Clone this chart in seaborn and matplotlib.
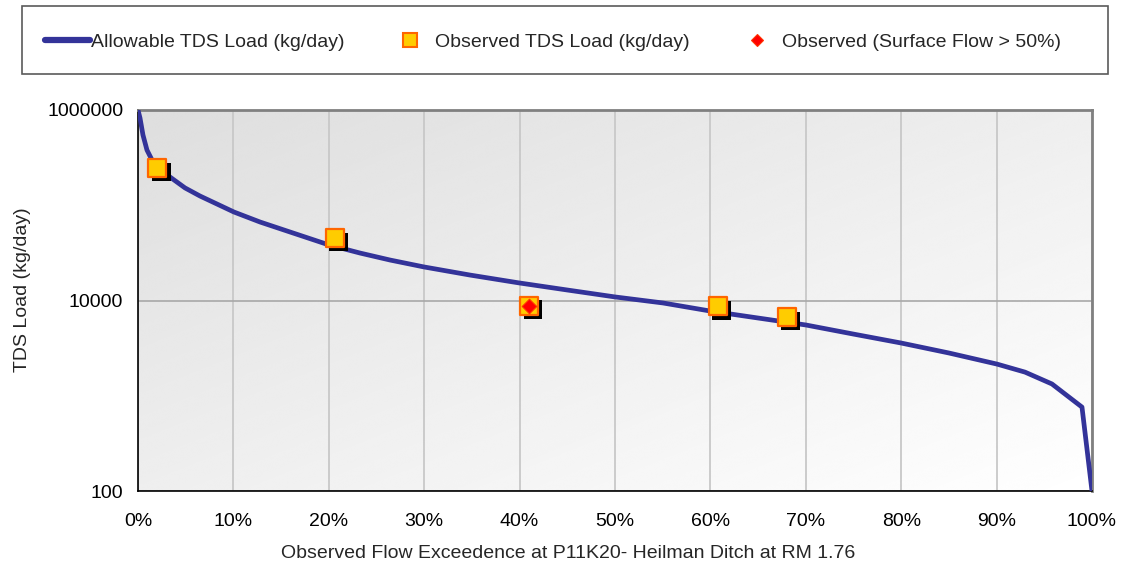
import numpy as np
import matplotlib
matplotlib.use("Agg")
import matplotlib.pyplot as plt
import seaborn as sns
from matplotlib.lines import Line2D
from matplotlib.patches import Rectangle
from matplotlib.ticker import FixedLocator, FuncFormatter, PercentFormatter, NullLocator
from matplotlib.transforms import offset_copy

# ---------------- data ----------------
curve_exceedance = [0.0, 0.0021, 0.0052, 0.0094, 0.0147, 0.0231, 0.0335, 0.0493, 0.065,
                    0.1006, 0.1279, 0.1593, 0.2002, 0.2327, 0.2642, 0.2998, 0.348, 0.3994,
                    0.4497, 0.50, 0.5503, 0.5996, 0.6499, 0.7002, 0.7495, 0.7998, 0.8501,
                    0.9004, 0.9298, 0.958, 0.9895, 1.0]
curve_load = [1000000, 824000, 547000, 380000, 298000, 234000, 198000, 152000, 125000,
              84900, 66700, 52400, 38300, 31500, 26600, 22500, 18500, 15300,
              12900, 10900, 9420, 7760, 6550, 5530, 4450, 3580, 2810,
              2150, 1770, 1330, 760, 100]

obs_exceedance = [0.0204, 0.206, 0.410, 0.6075, 0.680]
obs_load = [246000, 45300, 8850, 8700, 6700]

surface_exceedance = [0.410]
surface_load = [8850]

legend_labels = ["Allowable TDS Load (kg/day)",
                 "Observed TDS Load (kg/day)",
                 "Observed (Surface Flow > 50%)"]
x_ticks = [0.0, 0.1, 0.2, 0.3, 0.4, 0.5, 0.6, 0.7, 0.8, 0.9, 1.0]
y_ticks = [100, 10000, 1000000]
x_label = "Observed Flow Exceedence at P11K20- Heilman Ditch at RM 1.76"
y_label = "TDS Load (kg/day)"

# ---------------- style ----------------
sns.set_style("white")
plt.rcParams['font.family'] = ['Liberation Sans', 'DejaVu Sans']
plt.rcParams['font.size'] = 14

W, H = 1125, 565
fig = plt.figure(figsize=(W / 100, H / 100), dpi=100)
pos = [138 / W, (H - 491) / H, 954 / W, 381 / H]

# gradient background
bg = fig.add_axes(pos, zorder=0)
gx, gy = np.meshgrid(np.linspace(0, 1, 300), np.linspace(0, 1, 300))
shade = 0.87 + 0.13 * (gx + gy) / 2
bg.imshow(shade, cmap='gray', vmin=0, vmax=1, extent=[0, 1, 0, 1],
          aspect='auto', interpolation='bicubic')
bg.set_axis_off()

ax = fig.add_axes(pos, zorder=1)
ax.patch.set_alpha(0)
ax.set_yscale('log')

line_color = '#333399'
sns.lineplot(x=curve_exceedance, y=curve_load, color=line_color, lw=3.4,
             ax=ax, zorder=3, sort=False)

shadow = offset_copy(ax.transData, fig=fig, x=4, y=-4, units='dots')
sns.scatterplot(x=obs_exceedance, y=obs_load, marker='s', s=180, color='black',
                edgecolor='none', linewidth=0, transform=shadow, ax=ax, zorder=4)
sns.scatterplot(x=obs_exceedance, y=obs_load, marker='s', s=180, color='#FFCC00',
                edgecolor='#FF6600', linewidth=1.6, ax=ax, zorder=5)
sns.scatterplot(x=surface_exceedance, y=surface_load, marker='D', s=55, color='#FF0000',
                edgecolor='#FF3300', linewidth=0.8, ax=ax, zorder=6)

ax.set_xlim(0, 1)
ax.set_ylim(100, 1000000)
ax.xaxis.set_major_locator(FixedLocator(x_ticks))
ax.xaxis.set_major_formatter(PercentFormatter(xmax=1, decimals=0))
ax.yaxis.set_major_locator(FixedLocator(y_ticks))
ax.yaxis.set_major_formatter(FuncFormatter(lambda v, p: f"{v:.0f}"))
ax.yaxis.set_minor_locator(NullLocator())
ax.xaxis.set_minor_locator(NullLocator())

ax.grid(True, axis='x', color='#c8c8c8', lw=1.3, zorder=1)
ax.grid(True, axis='y', color='#a8a8a8', lw=1.2, zorder=1)
ax.set_axisbelow(True)

for s in ['top', 'right']:
    ax.spines[s].set_color('#808080')
    ax.spines[s].set_linewidth(2.0)
for s in ['left', 'bottom']:
    ax.spines[s].set_color('black')
    ax.spines[s].set_linewidth(1.2)

ax.tick_params(axis='both', direction='out', length=3.6, width=1, color='black',
               labelsize=14, labelcolor='black')
ax.tick_params(axis='x', pad=12.5)
ax.tick_params(axis='y', pad=7)

ax.set_xlabel(x_label, fontsize=14)
ax.set_ylabel(y_label, fontsize=14)
ax.xaxis.set_label_coords((568.5 - 138) / 954, (491 - 545) / 381)
ax.yaxis.set_label_coords((31 - 138) / 954, (491 - 290) / 381)

# ---------------- legend ----------------
fig.add_artist(Rectangle((22 / W, 1 - 74 / H), 1086 / W, 68 / H, transform=fig.transFigure,
                         fill=False, ec='#5a5a5a', lw=1.2))
ly = 1 - 42 / H
h1 = Line2D([], [], color=line_color, lw=4.5)
h2 = Line2D([], [], ls='none', marker='s', ms=9.5, mfc='#FFCC00', mec='#FF6600', mew=1.5)
h3 = Line2D([], [], ls='none', marker='D', ms=6, mfc='#FF0000', mec='#FF3300', mew=0.8)
em = 14 * 100 / 72
specs = [(h1, legend_labels[0], 45, 45 / em, 0.05),
         (h2, legend_labels[1], 400, 1.0, 16 / em),
         (h3, legend_labels[2], 747, 1.0, 16 / em)]
for h, lab, x0, hl, tp in specs:
    fig.legend(handles=[h], labels=[lab], loc='center left', bbox_to_anchor=(x0 / W, ly),
               frameon=False, borderpad=0, borderaxespad=0, handlelength=hl,
               handletextpad=tp, fontsize=14)

fig.savefig("out.png", dpi=100)
